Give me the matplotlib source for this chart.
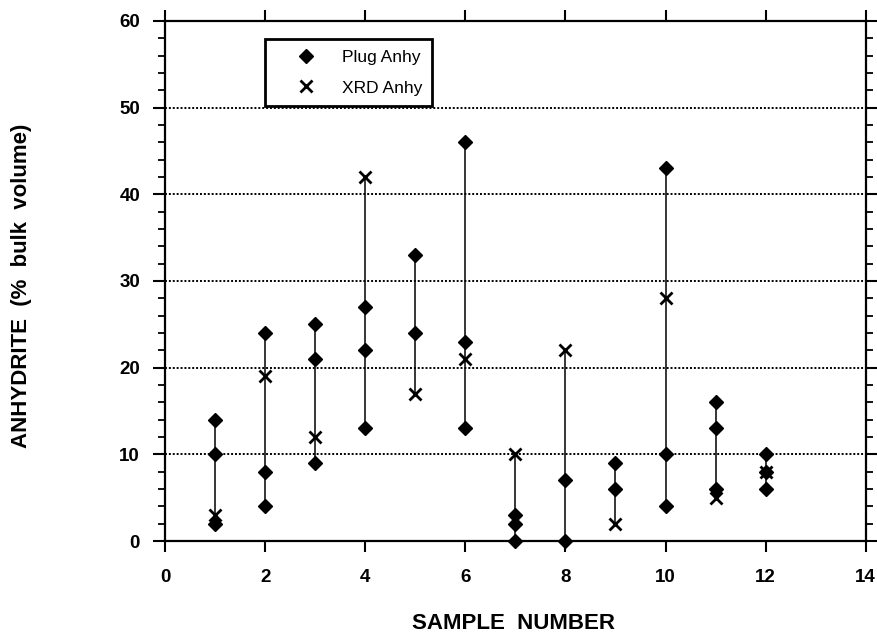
import numpy as np
import matplotlib
matplotlib.use("Agg")
import matplotlib.pyplot as plt
from matplotlib.lines import Line2D

plt.rcParams['font.family'] = ['Liberation Sans', 'DejaVu Sans']

# data
samples = [1, 2, 3, 4, 5, 6, 7, 8, 9, 10, 11, 12]
plug_anhy = [
    [14, 10, 2],
    [24, 8, 4],
    [25, 21, 9],
    [27, 22, 13],
    [33, 24],
    [46, 23, 13],
    [3, 2, 0],
    [7, 0],
    [9, 6],
    [43, 10, 4],
    [16, 13, 6],
    [10, 8, 6],
]
xrd_anhy = [3, 19, 12, 42, 17, 21, 10, 22, 2, 28, 5, 8]
x_ticks = [0, 2, 4, 6, 8, 10, 12, 14]
y_ticks = [0, 10, 20, 30, 40, 50, 60]
grid_levels = [10, 20, 30, 40, 50]

fig = plt.figure(figsize=(8.78, 6.35), dpi=100)
ax = fig.add_axes([0.188, 0.148, 0.798, 0.819])

for y in grid_levels:
    ax.axhline(y, color='black', lw=1.4, ls=(0, (1, 1)), zorder=1)

# vertical range lines per sample
lo = [min(p + [q]) for p, q in zip(plug_anhy, xrd_anhy)]
hi = [max(p + [q]) for p, q in zip(plug_anhy, xrd_anhy)]
ax.vlines(samples, lo, hi, color='black', lw=1.1, zorder=2)

px = [s for s, p in zip(samples, plug_anhy) for _ in p]
py = [v for p in plug_anhy for v in p]
ax.plot(px, py, ls='none', marker='D', ms=7, color='black', zorder=3, clip_on=False)
ax.plot(samples, xrd_anhy, ls='none', marker='x', ms=8, mew=2, color='black', zorder=4)

ax.set_xlim(0, 14)
ax.set_ylim(0, 60)
ax.set_xticks(x_ticks)
ax.set_yticks(y_ticks)
ax.set_yticks(np.arange(0, 61, 2), minor=True)
ax.tick_params(axis='x', which='major', direction='out', length=8, width=1.5,
               top=True, labelsize=13.5, pad=12)
ax.tick_params(axis='y', which='major', direction='out', length=9, width=1.5,
               right=True, labelsize=13.5, pad=9)
ax.tick_params(axis='y', which='minor', direction='out', length=5, width=1.3, right=True)
for lab in ax.get_xticklabels() + ax.get_yticklabels():
    lab.set_fontweight('bold')
for sp in ax.spines.values():
    sp.set_linewidth(1.6)

ax.set_xlabel('SAMPLE  NUMBER', fontsize=16, fontweight='bold')
ax.xaxis.set_label_coords(0.497, -0.138)
ax.set_ylabel('ANHYDRITE  (%  bulk  volume)', fontsize=16, fontweight='bold')
ax.yaxis.set_label_coords(-0.19, 0.49)

handles = [Line2D([], [], ls='none', marker='D', ms=7, color='black'),
           Line2D([], [], ls='none', marker='x', ms=8, mew=2, color='black')]
leg = ax.legend(handles, ['Plug Anhy', 'XRD Anhy'], loc='upper left',
                bbox_to_anchor=(0.143, 0.965), borderaxespad=0, fancybox=False,
                framealpha=1, edgecolor='black', fontsize=12.5, handlelength=3.5,
                handletextpad=0.3, labelspacing=0.9, borderpad=0.6, numpoints=1)
leg.get_frame().set_linewidth(2)
leg.set_zorder(5)

plt.savefig('out.png', dpi=100)
